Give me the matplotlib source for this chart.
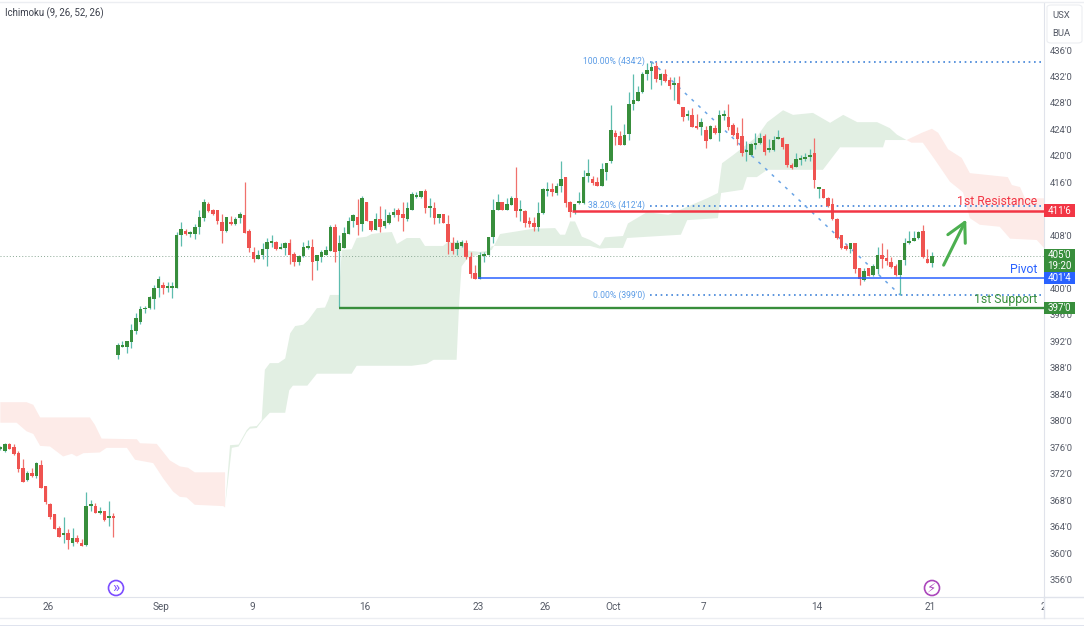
import numpy as np
import matplotlib
matplotlib.use('Agg')
import matplotlib.pyplot as plt
from matplotlib.patches import Rectangle, FancyBboxPatch, Ellipse
from matplotlib.lines import Line2D
from matplotlib.transforms import Bbox

plt.rcParams['font.family'] = ['Roboto', 'DejaVu Sans']

# 4h candles, bar 0 is the left edge of the chart
opens = [375.8,375.5,376.5,376.1,375.1,372.8,371.0,372.1,371.7,373.3,370.1,367.4,365.9,363.8,362.8,363.0,361.5,362.3,361.5,361.2,367.1,367.1,366.0,366.3,365.3,365.5,
	390.0,391.2,391.2,391.9,393.5,394.9,396.8,397.0,398.4,400.0,400.5,400.1,400.1,400.1,408.0,408.7,408.2,408.2,409.2,410.6,412.7,411.8,411.8,410.0,408.7,410.0,409.7,410.6,411.0,408.7,405.5,404.5,405.1,406.0,406.9,407.0,406.0,406.1,406.8,405.2,403.9,404.9,406.1,406.2,404.2,404.7,405.1,405.6,409.3,405.6,406.1,408.2,410.1,410.8,409.7,413.0,410.2,408.8,410.5,409.4,409.9,411.0,411.8,
	411.2,410.4,411.9,413.8,413.8,414.7,412.2,412.2,410.6,411.2,409.7,406.8,405.9,406.4,406.8,404.7,402.3,401.4,404.9,405.0,407.7,411.9,413.0,411.9,412.6,413.7,411.7,411.7,410.2,409.9,409.2,411.4,414.7,415.0,414.4,415.5,416.8,413.0,411.6,412.9,412.9,416.9,416.5,416.0,415.5,417.6,
	419.2,423.4,423.0,421.7,423.3,427.9,428.3,429.6,432.3,432.9,433.6,431.4,432.4,431.4,430.7,431.0,427.4,426.0,426.2,424.5,424.4,423.9,422.6,424.2,423.4,426.1,425.9,424.7,423.4,423.0,420.6,420.1,421.7,421.9,423.0,420.9,420.9,422.6,422.7,421.8,418.7,418.4,419.4,419.6,419.9,420.5,415.0,415.0,413.6,412.7,
	410.5,408.1,406.4,405.9,406.8,403.0,401.2,403.0,402.0,402.9,405.0,404.6,404.0,403.3,402.0,404.3,406.8,407.2,407.6,408.7,404.5,403.8]
highs = [376.2,376.6,376.6,376.5,375.5,374.2,372.4,372.8,373.7,374.1,370.2,367.6,365.9,364.1,365.4,363.6,363.8,362.7,362.1,369.3,368.0,367.6,366.9,366.3,367.8,366.1,
	391.8,392.0,392.1,394.6,396.2,397.3,397.3,398.8,400.5,401.9,401.0,400.9,400.9,408.5,410.0,408.9,408.7,409.7,411.8,413.5,413.1,412.0,411.8,411.2,410.8,410.9,410.8,411.6,416.0,409.0,406.2,405.8,406.8,407.6,408.1,407.1,406.8,407.0,407.4,405.5,405.0,407.0,407.3,407.4,405.1,405.8,406.4,409.6,409.7,408.0,409.2,410.7,411.3,413.5,414.0,413.0,410.2,411.4,412.4,412.0,411.6,412.1,412.1,
	413.1,413.1,414.5,414.6,414.7,415.0,413.7,413.0,411.3,411.3,411.0,407.7,407.3,407.3,407.3,405.5,403.5,405.5,405.5,407.7,413.5,414.2,413.1,413.6,413.9,418.3,413.4,411.8,410.7,410.8,413.0,415.1,416.0,415.9,415.9,419.2,416.8,413.2,412.8,414.5,417.8,419.6,416.9,416.8,418.9,419.0,
	427.7,423.9,423.7,424.8,429.7,432.4,430.5,432.7,434.1,434.2,434.2,432.5,433.1,431.9,431.9,432.0,427.4,427.0,427.2,426.4,425.7,424.5,424.7,424.7,426.9,426.9,427.9,425.0,424.3,425.7,422.2,421.9,423.4,423.4,423.3,422.5,423.0,423.9,422.8,421.8,418.9,420.5,420.1,420.5,421.1,422.7,415.2,415.0,413.8,413.7,
	410.6,408.1,406.7,406.9,406.9,403.1,403.1,403.1,403.6,406.3,406.8,406.0,404.7,403.6,404.3,407.6,408.6,408.7,408.7,409.6,406.0,405.5]
lows = [375.6,375.2,375.7,374.8,372.2,370.7,370.9,371.5,371.4,369.8,367.4,365.1,363.7,362.4,361.6,360.6,361.1,361.5,361.0,361.1,366.4,366.0,365.9,364.9,364.1,362.4,
	389.3,391.1,390.3,391.0,393.1,394.6,396.2,396.9,396.9,398.7,399.2,399.4,398.5,400.1,406.4,408.0,407.8,407.4,408.2,410.2,411.6,411.1,409.7,406.8,408.5,409.6,409.6,409.8,408.3,405.5,404.0,404.4,404.4,403.3,406.2,405.8,405.9,405.0,403.7,403.3,403.5,404.8,406.0,401.3,402.7,404.0,405.0,405.6,404.0,397.2,406.1,408.2,409.3,408.1,408.7,410.1,408.7,408.8,408.5,409.1,409.7,410.8,410.2,
	408.6,410.2,411.9,413.7,413.7,411.4,410.8,409.7,409.9,409.8,405.2,405.2,405.0,406.3,404.5,401.5,401.4,401.4,404.0,405.0,406.9,411.8,411.8,411.8,412.6,410.8,410.1,409.3,409.2,408.6,408.7,411.3,414.0,414.0,414.1,414.6,412.3,410.8,411.2,412.8,412.8,416.1,415.6,415.4,415.4,416.3,
	419.0,421.7,421.6,421.6,422.4,426.9,428.3,429.5,431.4,430.1,431.2,430.7,431.2,430.1,428.4,427.8,425.2,425.5,424.3,424.1,423.2,421.2,422.5,423.3,422.3,425.5,423.9,423.0,421.7,420.0,419.3,420.0,421.1,421.8,420.1,420.6,420.8,422.5,421.0,418.3,418.0,418.3,418.6,419.3,419.3,415.2,413.7,413.6,412.3,410.3,
	407.5,406.0,405.8,405.3,402.3,400.5,401.1,401.9,401.9,402.2,403.0,403.5,403.1,401.9,399.0,403.5,406.7,407.1,407.5,404.6,403.8,403.2]
closes = [376.1,376.5,375.7,375.0,372.7,370.8,372.1,371.6,373.6,369.9,367.7,365.5,363.7,362.5,363.0,362.0,362.3,361.7,361.0,367.1,367.4,366.0,366.1,365.0,365.5,365.3,
	391.4,391.3,392.0,393.7,395.5,396.8,397.0,398.7,400.0,401.4,400.1,400.2,400.2,408.0,408.9,408.2,408.4,409.3,410.8,413.0,411.7,411.3,410.1,408.7,410.8,409.7,410.5,411.2,408.4,406.1,404.4,405.1,406.0,407.0,407.2,406.0,406.2,406.8,405.1,403.9,404.9,406.2,406.2,403.9,405.0,405.5,405.8,409.3,405.5,406.8,408.3,410.2,411.0,409.6,413.7,410.2,408.8,410.5,409.2,410.2,411.0,411.5,411.1,
	410.6,412.2,414.2,413.9,414.7,412.1,412.3,410.6,411.2,409.9,407.0,405.7,406.8,407.0,404.7,402.2,401.4,405.1,405.1,407.7,411.9,413.0,411.9,412.7,413.7,411.7,411.8,409.9,409.7,409.2,411.4,415.0,415.0,414.6,415.5,416.5,412.9,411.6,412.7,413.1,416.8,417.4,415.9,415.5,418.0,418.9,
	423.9,422.9,421.7,423.2,427.9,428.4,429.6,432.4,433.0,433.4,431.6,432.4,431.3,430.5,431.0,427.8,425.9,426.2,424.4,424.2,425.1,422.3,424.5,423.4,426.2,426.4,424.4,423.2,422.6,420.4,420.8,421.8,422.0,422.7,420.6,421.2,422.4,422.7,421.4,418.6,418.1,419.5,419.5,419.8,420.0,416.4,415.1,413.6,412.4,410.4,
	407.6,406.1,405.9,406.8,402.9,401.4,402.6,401.9,403.3,405.0,404.5,404.2,403.2,402.0,404.3,406.8,407.2,407.6,408.5,404.7,403.8,404.9]

# ichimoku cloud outlines, bar index and price
red1_top_x = [0,5.8,7.3,8.8,19.8,20.9,22.4,30.2,30.9,34.6,36,37.5,39.7,41.5,43,49.7]
red1_top = [382.8,382.8,382.4,380.5,380.5,379.4,377.3,377.2,376.6,376.5,375.3,374.0,373.1,372.9,372.2,372.2]
red1_bot_x = [0,3.6,5.8,7.3,8.8,11,13.9,15.8,16.9,18.4,22,23.5,28,29.8,33.8,36,38.2,39.7,41.2,43,49.3,49.7]
red1_bot = [379.7,379.7,378.4,378.0,376.2,376.1,374.6,375.0,374.6,375.1,375.2,375.9,375.9,374.1,373.6,371.3,369.3,368.5,368.4,367.3,367.1,366.9]

green_top_x = [49.7,50.8,52.7,54.5,55.2,56.7,57.8,58.5,59.6,61.5,63,64.1,65.2,67,68.1,70,71.8,72.5,72.9,74.9,75.5,77.7,78.8,81,82.1,84.3,86.6,87.7,89.9,92.8,93.9,97.9,99,102.3,103.4,106.1,108.7,110.5,114.2,117.8,122.7,123.8,124.9,126,127.1,128.6,130.4,132.6,133.7,137.7,138.8,143,147.7,156.3,158.7,159.6,162,167.3,169.6,173.1,175.3,179.7,183.5,186.4,189.5,193.9,196.7,198.3,200.4]
green_top = [367.0,376.3,376.4,378.6,379.1,379.2,380.1,387.7,388.7,388.7,389.4,393.2,394.3,394.5,395.2,397.0,397.1,398.2,399.0,399.0,405.8,405.9,407.6,407.8,408.2,408.4,408.5,406.7,407.6,407.6,406.4,406.4,407.0,407.0,405.7,405.5,405.8,408.2,408.6,409.0,409.1,408.1,408.1,410.1,410.1,407.8,407.3,406.4,407.7,407.9,409.8,411.5,411.1,413.6,414.4,418.9,420.1,422.9,425.1,426.9,426.2,426.5,425.0,426.2,425.1,425.1,424.2,423.2,422.4]
green_bot_x = [49.7,51.2,52.7,54.5,55.2,56.7,57.8,59.6,63,63.9,64.7,67.9,70,77.7,78.8,91,94.3,95.8,100.9,101.5,102,103.4,106.1,107.6,108.7,130.4,132.6,134.8,137.7,138.6,150.5,151.9,158.7,159.4,164.2,165.1,167.3,169.6,181.9,185.7,195.2,195.7,200.4]
green_bot = [367.0,375.9,376.1,378.3,378.8,378.9,379.9,381.2,381.2,384.6,385.3,385.3,387.1,387.1,388.3,388.3,388.6,389.2,389.2,398.2,403.3,404.6,405.2,405.3,406.4,406.4,406.0,406.1,406.1,407.6,408.1,410.3,410.6,414.4,414.9,416.8,416.8,417.9,417.9,421.3,421.3,422.4,422.4]

red2_top_x = [200.4,203.8,206,207.4,209.6,212.6,214.4,222.8,223.7,225.5,226.6,230.8]
red2_top = [422.4,423.5,424.1,423.5,421.0,419.7,417.4,416.8,415.6,415.3,413.6,413.6]
red2_bot_x = [200.4,201.5,204,206.7,210,212.9,214.4,216.6,221,223.3,229.2,230.8]
red2_bot = [422.4,422.0,422.0,419.4,416.1,414.5,410.6,409.6,409.3,407.5,407.3,406.1]

# levels drawn on the chart
resistance = 411.75
pivot = 401.5
support = 397.0
fib_high = 434.25
fib_mid = 412.5
fib_low = 399.0

# 412 and 404 sit behind the price tags in the reference
price_ticks = [356,360,364,368,372,376,380,384,388,392,396,400,408,416,420,424,428,432,436]
date_pos = [10.5,35.6,55.7,80.7,105.7,120.5,135.5,155.6,180.6,205.6,230.6]
date_labels = ['26','Sep','9','16','23','26','Oct','7','14','21','2']

W, H = 1084, 626
col_up = '#388e3c'
col_down = '#ef5350'
col_red = '#f23645'
col_blue = '#2962ff'
col_fib = '#5b9ce6'
col_grid = '#e0e3eb'
col_text = '#555a66'

fig = plt.figure(figsize=(W/100, H/100), dpi=100)
ax = fig.add_axes([0, (H-597)/H, 1044/W, 594/H])
ax.set_xlim(-0.07, 230.8)
ax.set_ylim(353.37, 443.1)

# cloud
def cloud(xt, yt, xb, yb, color):
	ax.fill(np.r_[xt, xb[::-1]], np.r_[yt, yb[::-1]], color=color, lw=0, zorder=1)
cloud(red1_top_x, red1_top, red1_bot_x, red1_bot, '#fdebe8')
cloud(green_top_x, green_top, green_bot_x, green_bot, '#e2efe3')
cloud(red2_top_x, red2_top, red2_bot_x, red2_bot, '#fdebe8')

# candles
opens = np.array(opens)
closes = np.array(closes)
idx = np.arange(len(opens))
up = closes >= opens
ax.vlines(idx[up], np.array(lows)[up], np.array(highs)[up], color='#5dbcae', lw=0.9, zorder=3)
ax.vlines(idx[~up], np.array(lows)[~up], np.array(highs)[~up], color='#f0716d', lw=0.9, zorder=3)
bottoms = np.minimum(opens, closes)
heights = np.maximum(np.abs(closes-opens), 0.3)
ax.bar(idx[up], heights[up], 0.78, bottoms[up], color=col_up, lw=0, zorder=3.2)
ax.bar(idx[~up], heights[~up], 0.78, bottoms[~up], color=col_down, lw=0, zorder=3.2)

# last price
ax.axhline(closes[-1], color='#8aa894', lw=0.7, ls=(0, (1, 2.2)), zorder=2)

# levels
right = ax.get_xlim()[1]
ax.hlines(resistance, 126.4, right, color=col_red, lw=1.8, zorder=4)
ax.hlines(pivot, 105.6, right, color=col_blue, lw=1.1, zorder=4)
ax.hlines(support, 74.9, right, color=col_up, lw=1.7, zorder=4)

# fib retracement
for lev, lab in zip([fib_high, fib_mid, fib_low], ["100.00% (434'2)", "38.20% (412'4)", "0.00% (399'0)"]):
	ax.hlines(lev, 143.7, right, color='#3f83d8', lw=1.2, ls=(0, (1, 2.2)), zorder=2.5)
	ax.text(142.6, lev, lab, color=col_fib, fontsize=6.2, ha='right', va='center', zorder=5)
ax.plot([144, 199], [fib_high, fib_low], color='#6ba5e6', lw=1.1, ls=(0, (2, 4)), zorder=2.5)

# level names
ax.text(229.3, 413.1, '1st Resistance', color=col_red, fontsize=8.8, ha='right', va='center', zorder=5)
ax.text(229.3, 402.9, 'Pivot', color=col_blue, fontsize=8.8, ha='right', va='center', zorder=5)
ax.text(229.3, 398.3, '1st Support', color=col_up, fontsize=8.8, ha='right', va='center', zorder=5)

ax.annotate('', xy=(213.6, 410.4), xytext=(208.6, 403.5),
	arrowprops=dict(arrowstyle='->,head_length=0.95,head_width=0.5', color='#4caf50', lw=2.2, shrinkA=0, shrinkB=0, mutation_scale=14), zorder=5)

# axes
for s in ['top', 'left']:
	ax.spines[s].set_visible(False)
ax.spines['right'].set_color(col_grid)
ax.spines['bottom'].set_color(col_grid)
ax.yaxis.tick_right()
ax.set_yticks(price_ticks)
ax.set_yticklabels(["%d'0" % p for p in price_ticks])
ax.tick_params(axis='y', length=0, pad=4, labelsize=6.8, labelcolor=col_text)
ax.set_xticks(date_pos)
ax.set_xticklabels(date_labels)
ax.tick_params(axis='x', length=0, pad=3.5, labelsize=7.2, labelcolor=col_text)
clip = Bbox([[0, 0], [1044, H]])
for t in ax.get_xticklabels():
	t.set_clip_box(clip)
	t.set_clip_on(True)

# price tags on the scale
tr = ax.get_yaxis_transform()
def tag(low, high, color):
	ax.add_patch(Rectangle((1.0, low), 0.0295, high-low, transform=tr, color=color, lw=0, clip_on=False, zorder=6))
def tag_text(price, txt):
	ax.text(1.0148, price, txt, transform=tr, color='white', fontsize=7, ha='center', va='center', clip_on=False, zorder=7)
tag(resistance-0.98, resistance+0.98, col_red)
tag_text(resistance, "411'6")
tag(402.3, 405.9, col_up)
tag_text(closes[-1]+0.1, "405'0")
tag_text(403.3, '19:20')
tag(pivot-0.9, pivot+0.9, col_blue)
tag_text(pivot, "401'4")
tag(support-0.9, support+0.9, col_up)
tag_text(support, "397'0")

# title and frame bits
fig.text(5/W, 1-13.5/H, 'Ichimoku (9, 26, 52, 26)', fontsize=6.9, color='#3a3e4a', va='center')
for y in [2, 618]:
	fig.add_artist(Line2D([0, 1], [1-y/H, 1-y/H], color='#eceef2', lw=1))
fig.add_artist(Line2D([1044/W, 1], [1-597/H, 1-597/H], color=col_grid, lw=1))
fig.add_artist(Line2D([1044/W, 1044/W], [1-618/H, 1-597/H], color=col_grid, lw=1))
fig.add_artist(Rectangle((0, 0), 1, 1.5/H, color='#dfe3ee', lw=0, transform=fig.transFigure))

box = FancyBboxPatch((1047/W, 1-43/H), 35/W, 38/H, boxstyle='round,pad=0,rounding_size=0.004', transform=fig.transFigure, fc='white', ec='#eceef2', lw=0.8, zorder=5)
fig.add_artist(box)
fig.text(1061/W, 1-15/H, 'USX', fontsize=6.8, color=col_text, ha='center', va='center', zorder=6)
fig.text(1061/W, 1-34/H, 'BUA', fontsize=6.8, color=col_text, ha='center', va='center', zorder=6)

# session icons
for cx, col, sym, fs in [(116, '#7c4dff', '»', 11), (932, '#ab47bc', '⚡', 9.5)]:
	fig.add_artist(Ellipse((cx/W, 1-588/H), 15/W, 15/H, fc='white', ec=col, lw=1.2, transform=fig.transFigure, zorder=5))
	fig.text(cx/W, 1-588/H, sym, fontsize=fs, color=col, ha='center', va='center', zorder=6)

fig.savefig('out.png', dpi=100)
